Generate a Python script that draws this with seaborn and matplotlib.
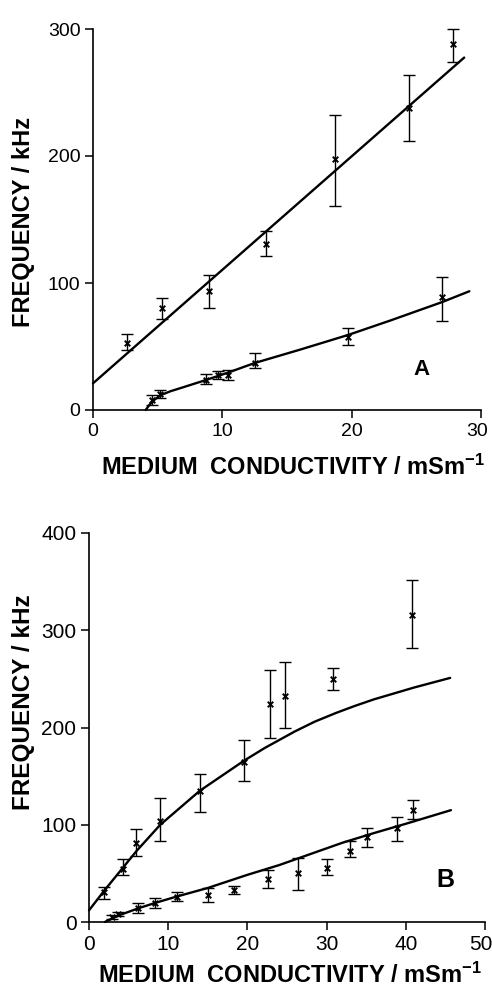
import numpy as np
import pandas as pd
import matplotlib
matplotlib.use("Agg")
import matplotlib.pyplot as plt
import matplotlib.transforms as mtransforms
import seaborn as sns

# ---------------- data ----------------
# Panel A
a_up_x = [2.6, 5.3, 9.0, 13.4, 18.7, 24.4, 27.8]
a_up_y = [52.5, 80, 94, 131, 198, 238, 288]
a_up_lo = [47, 72, 80, 121, 161, 212, 274]
a_up_hi = [59.5, 88.5, 106, 141, 232, 264, 300]
a_up_fit_x = [0, 28.7]
a_up_fit_y = [21, 277.5]

a_lo_x = [4.6, 5.2, 8.7, 9.7, 10.4, 12.5, 19.7, 27.0]
a_lo_y = [7.9, 12.6, 23.6, 27.6, 27.6, 37.2, 57.7, 88.7]
a_lo_lo = [4, 9.2, 20.2, 24.5, 23.6, 32.8, 51.2, 70.3]
a_lo_hi = [11.5, 15.7, 28.1, 30.5, 31.5, 44.6, 64.3, 104.5]
a_lo_fit_x = [4.07, 4.4, 4.8, 5.3, 6.0, 7.0, 8.7, 10.4, 12.5, 16.0, 19.7, 23.0, 27.0, 29.1]
a_lo_fit_y = [0, 4.5, 8.5, 12, 14.8, 18, 23.5, 29.3, 37, 47.5, 59, 70.5, 85, 93.5]

# Panel B
b_up_x = [1.9, 4.3, 5.9, 9.0, 14.05, 19.6, 22.8, 24.8, 30.8, 40.8]
b_up_y = [31, 55, 81, 104, 135, 165, 224, 232, 250, 316]
b_up_lo = [24, 48, 68, 83, 113, 145, 189.5, 200, 238.6, 281.4]
b_up_hi = [36.3, 64.4, 95.3, 127, 152, 187, 259, 267, 261, 352]
b_up_fit_x = [0, 2, 4.3, 6, 9, 14, 19.6, 22.2, 26, 28.5, 31.2, 33.5, 36, 38.5, 41, 43.3, 45.6]
b_up_fit_y = [12, 33, 56, 73, 100, 135, 166, 179, 196, 206, 215, 222, 229, 235, 241, 246, 251]

b_lo_x = [2.95, 3.6, 6.2, 8.3, 11.05, 15.0, 18.35, 22.6, 26.4, 30.1, 32.9, 35.1, 38.9, 40.9]
b_lo_y = [5.5, 8.2, 14, 19.2, 26, 27.8, 32.9, 43.9, 50, 55.2, 73, 87.7, 96.3, 115.2]
b_lo_lo = [3.5, 6, 8.9, 14.7, 21.9, 20.2, 28.8, 35.3, 32.9, 48.3, 66.5, 77.4, 83.6, 105.9]
b_lo_hi = [7.5, 10, 19.2, 24.3, 31.2, 34.6, 37.3, 53.5, 65.4, 64.4, 83.6, 96.9, 108.2, 125.4]
b_lo_fit_x = [2, 3, 4, 6.2, 8.3, 11, 15, 20, 24, 28, 32, 36, 40, 45.7]
b_lo_fit_y = [0, 4, 7.5, 14, 19.5, 26, 35, 48.5, 58.5, 70, 81.5, 91.5, 101, 115]

a_xticks = [0, 10, 20, 30]
a_yticks = [0, 100, 200, 300]
b_xticks = [0, 10, 20, 30, 40, 50]
b_yticks = [0, 100, 200, 300, 400]

xlabel = r"MEDIUM  CONDUCTIVITY / mSm$\mathregular{^{-1}}$"
ylabel = "FREQUENCY / kHz"

# ---------------- style ----------------
sns.set_theme(style="ticks")
plt.rcParams["font.family"] = ["Liberation Sans", "DejaVu Sans"]
plt.rcParams["mathtext.fontset"] = "custom"
plt.rcParams["mathtext.rm"] = "Liberation Sans"
plt.rcParams["mathtext.bf"] = "Liberation Sans:bold"
plt.rcParams["text.color"] = "black"
plt.rcParams["axes.labelcolor"] = "black"
plt.rcParams["xtick.color"] = "black"
plt.rcParams["ytick.color"] = "black"

W, H = 492, 990
fig = plt.figure(figsize=(W / 100, H / 100), dpi=100)
fig.patch.set_facecolor("white")

def frac_rect(left, right, top, bottom):
    return [left / W, 1 - bottom / H, (right - left) / W, (bottom - top) / H]

axA = fig.add_axes(frac_rect(93, 481, 29, 410))
axB = fig.add_axes(frac_rect(89, 485, 533, 922))

def draw_series(ax, x, y, lo, hi):
    x = np.array(x); y = np.array(y)
    lo = np.array(lo); hi = np.array(hi)
    ax.errorbar(x, y, yerr=[y - lo, hi - y], fmt="none", ecolor="black",
                elinewidth=1.0, capsize=4, capthick=1.0, clip_on=False, zorder=3)
    df = pd.DataFrame({"x": x, "y": y})
    sns.scatterplot(data=df, x="x", y="y", ax=ax, marker="x", s=16,
                    color="black", linewidth=1.4, clip_on=False, zorder=4)

def draw_fit(ax, x, y):
    df = pd.DataFrame({"x": x, "y": y})
    sns.lineplot(data=df, x="x", y="y", ax=ax, sort=False, estimator=None,
                 color="black", linewidth=1.7, clip_on=False, zorder=2)

def style_axes(ax, xlim, ylim, xt, yt, fs):
    ax.set_xlim(*xlim)
    ax.set_ylim(*ylim)
    ax.set_xticks(xt)
    ax.set_yticks(yt)
    ax.set_xticklabels([str(v) for v in xt])
    ax.set_yticklabels([str(v) for v in yt])
    ax.set_xlabel("")
    ax.set_ylabel("")
    sns.despine(ax=ax)
    for s in ("left", "bottom"):
        ax.spines[s].set_linewidth(1.2)
        ax.spines[s].set_color("black")
    ax.tick_params(axis="both", direction="out", length=6, width=1.1,
                   colors="black", labelsize=fs, pad=3)
    ax.set_facecolor("white")

# Panel A
draw_fit(axA, a_up_fit_x, a_up_fit_y)
draw_fit(axA, a_lo_fit_x, a_lo_fit_y)
draw_series(axA, a_up_x, a_up_y, a_up_lo, a_up_hi)
draw_series(axA, a_lo_x, a_lo_y, a_lo_lo, a_lo_hi)
style_axes(axA, (0, 30), (0, 300), a_xticks, a_yticks, 14)

# Panel B
draw_fit(axB, b_up_fit_x, b_up_fit_y)
draw_fit(axB, b_lo_fit_x, b_lo_fit_y)
draw_series(axB, b_up_x, b_up_y, b_up_lo, b_up_hi)
draw_series(axB, b_lo_x, b_lo_y, b_lo_lo, b_lo_hi)
style_axes(axB, (0, 50), (0, 400), b_xticks, b_yticks, 15)

# keep the last x tick labels inside the figure edge
for ax in (axA, axB):
    lab = ax.get_xticklabels()[-1]
    lab.set_transform(lab.get_transform() +
                      mtransforms.ScaledTranslation(-4 / 100, 0, fig.dpi_scale_trans))

# Axis labels
fig.text(101 / W, 1 - 475 / H, xlabel, ha="left", va="baseline",
         fontsize=17, fontweight="bold", color="black")
fig.text(98 / W, 1 - 983 / H, xlabel, ha="left", va="baseline",
         fontsize=17, fontweight="bold", color="black")
fig.text(24 / W, 1 - 222 / H, ylabel, ha="center", va="center", rotation=90,
         fontsize=17, fontweight="bold", color="black")
fig.text(24 / W, 1 - 702 / H, ylabel, ha="center", va="center", rotation=90,
         fontsize=17.5, fontweight="bold", color="black")

# Panel letters
fig.text(421.7 / W, 1 - 375 / H, "A", ha="center", va="baseline",
         fontsize=16, fontweight="bold", color="black")
fig.text(445.8 / W, 1 - 887 / H, "B", ha="center", va="baseline",
         fontsize=18, fontweight="bold", color="black")

fig.savefig("out.png", dpi=100, facecolor="white")
